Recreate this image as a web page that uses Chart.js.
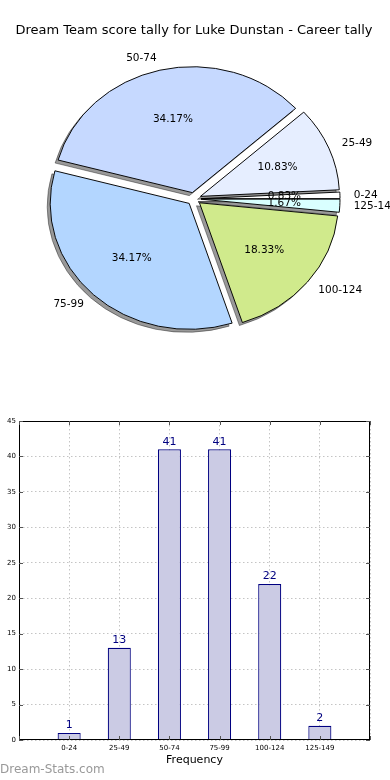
<!DOCTYPE html>
<html>
<head>
<meta charset="utf-8">
<title>Dream Team score tally</title>
<script src="https://cdn.jsdelivr.net/npm/chart.js@4.4.1/dist/chart.umd.min.js"></script>
<style>
  body { margin: 0; background: #fff; }
  #wrap { position: relative; width: 390px; height: 780px; overflow: hidden; }
  canvas { position: absolute; left: 0; }
  #pie { top: 0; }
  #bars { top: 400px; }
  #mark { position: absolute; left: 0; top: 762px; font: 12px "DejaVu Sans", sans-serif; color: #999; }
</style>
</head>
<body>
<div id="wrap">
  <canvas id="pie" width="390" height="400"></canvas>
  <canvas id="bars" width="390" height="380"></canvas>
  <div id="mark">Dream-Stats.com</div>
</div>
<script>
// data
const categories = ["0-24", "25-49", "50-74", "75-99", "100-124", "125-149"];
const counts = [1, 13, 41, 41, 22, 2];
const yTicks = [0, 5, 10, 15, 20, 25, 30, 35, 40, 45];
const pieColours = ["#ffffff", "#e6eeff", "#c6d9ff", "#b3d6ff", "#d0ea8c", "#d9ffff"];
const chartTitle = "Dream Team score tally for Luke Dunstan - Career tally";

const FONT = "DejaVu Sans";
const EXPLODE = 7;      // px each slice is pushed out
const SQUASH = 0.906;   // pie is a bit flatter than round
const SHADOW = "rgba(0,0,0,0.4)";

function pieSpace(ctx, cx, cy) {
  // flip so slices run anticlockwise, and squash a little
  ctx.translate(cx, cy);
  ctx.scale(1, -SQUASH);
  ctx.translate(-cx, -cy);
}

// pie: squash + flip, shadow pass, explode
const piePlugin = {
  id: "pieLook",
  beforeDatasetsDraw(chart) {
    const meta = chart.getDatasetMeta(0);
    const first = meta.data[0];
    const ctx = chart.ctx;
    meta.data.forEach(arc => {
      if (arc._exploded) return;
      const draw = arc.draw;
      arc.draw = function (c, area) {
        const mid = (this.startAngle + this.endAngle) / 2;
        c.save();
        c.translate(Math.cos(mid) * EXPLODE, Math.sin(mid) * EXPLODE);
        draw.call(this, c, area);
        c.restore();
      };
      arc._exploded = true;
    });

    // shadows first, down and to the left
    ctx.save();
    ctx.translate(-3, 3);
    pieSpace(ctx, first.x, first.y);
    meta.data.forEach(arc => {
      const o = arc.options;
      const bg = o.backgroundColor, bc = o.borderColor;
      o.backgroundColor = SHADOW;
      o.borderColor = SHADOW;
      arc.draw(ctx);
      o.backgroundColor = bg;
      o.borderColor = bc;
    });
    ctx.restore();

    ctx.save();
    pieSpace(ctx, first.x, first.y);
  },
  afterDatasetsDraw(chart) {
    const ctx = chart.ctx;
    ctx.restore();
    const meta = chart.getDatasetMeta(0);
    const total = counts.reduce((a, b) => a + b, 0);
    ctx.save();
    ctx.fillStyle = "#000";
    ctx.font = "10.5px '" + FONT + "'";
    ctx.textBaseline = "middle";
    meta.data.forEach((arc, i) => {
      const mid = (arc.startAngle + arc.endAngle) / 2;
      const r = arc.outerRadius;
      const at = d => ({
        x: arc.x + (EXPLODE + r * d) * Math.cos(mid),
        y: arc.y - SQUASH * (EXPLODE + r * d) * Math.sin(mid)
      });
      const p = at(0.6);
      ctx.textAlign = "center";
      ctx.fillText((counts[i] / total * 100).toFixed(2) + "%", p.x, p.y);
      const l = at(1.1);
      ctx.textAlign = l.x > arc.x ? "left" : "right";
      ctx.fillText(categories[i], l.x, l.y);
    });
    ctx.restore();
  }
};

new Chart(document.getElementById("pie"), {
  type: "pie",
  data: {
    labels: categories,
    datasets: [{
      data: counts,
      backgroundColor: pieColours,
      borderColor: "#000",
      borderWidth: 1,
      clip: false
    }]
  },
  options: {
    responsive: false,
    animation: false,
    events: [],
    rotation: 90,
    radius: 139,
    layout: { padding: { top: 0, left: 0, right: 2, bottom: 51 } },
    plugins: {
      legend: { display: false },
      tooltip: { enabled: false },
      title: {
        display: true,
        text: chartTitle,
        color: "#000",
        font: { family: FONT, size: 13, weight: "normal" },
        padding: { top: 23, bottom: 10 }
      }
    }
  },
  plugins: [piePlugin]
});

// bars: value labels, box frame with inward ticks
const barPlugin = {
  id: "barLook",
  afterDatasetsDraw(chart) {
    const ctx = chart.ctx;
    const meta = chart.getDatasetMeta(0);
    ctx.save();
    ctx.fillStyle = "#000080";
    ctx.font = "11px '" + FONT + "'";
    ctx.textAlign = "center";
    ctx.textBaseline = "bottom";
    meta.data.forEach((bar, i) => {
      const v = chart.data.datasets[0].data[i];
      if (v == null) return;
      ctx.fillText(v, bar.x, bar.y - 2);
    });
    ctx.restore();
  },
  afterDraw(chart) {
    const { ctx, chartArea: a, scales } = chart;
    ctx.save();
    ctx.strokeStyle = "#000";
    ctx.lineWidth = 1;
    ctx.strokeRect(a.left + 0.5, a.top + 0.5, a.right - a.left - 1, a.bottom - a.top - 1);
    ctx.strokeStyle = "#555";
    ctx.beginPath();
    scales.x.ticks.forEach((t, i) => {
      const x = Math.round(scales.x.getPixelForTick(i)) + 0.5;
      ctx.moveTo(x, a.top); ctx.lineTo(x, a.top + 4);
      ctx.moveTo(x, a.bottom); ctx.lineTo(x, a.bottom - 4);
    });
    scales.y.ticks.forEach((t, i) => {
      const y = Math.round(scales.y.getPixelForTick(i)) + 0.5;
      ctx.moveTo(a.left, y); ctx.lineTo(a.left + 4, y);
      ctx.moveTo(a.right, y); ctx.lineTo(a.right - 4, y);
    });
    ctx.stroke();
    ctx.restore();
  }
};

const paddedLabels = ["", ...categories, ""];
const paddedCounts = [null, ...counts, null];

new Chart(document.getElementById("bars"), {
  type: "bar",
  data: {
    labels: paddedLabels,
    datasets: [{
      data: paddedCounts,
      backgroundColor: "#cbcbe4",
      borderColor: "#000080",
      borderWidth: 1.2,
      barPercentage: 0.46,
      categoryPercentage: 1
    }]
  },
  options: {
    responsive: false,
    animation: false,
    events: [],
    layout: { padding: { top: 21, left: 0, right: 20, bottom: 0 } },
    plugins: { legend: { display: false }, tooltip: { enabled: false } },
    scales: {
      x: {
        z: 1,
        offset: false,
        afterFit: s => { s.height = 40; },
        grid: { offset: false, color: "#c4c4c4", drawTicks: false },
        border: { display: false, dash: [1.5, 2.5] },
        ticks: { color: "#000", font: { family: FONT, size: 7 }, padding: 4, maxRotation: 0, autoSkip: false },
        title: {
          display: true,
          text: "Frequency",
          color: "#000",
          font: { family: FONT, size: 11 },
          padding: { top: 0, bottom: 13 }
        }
      },
      y: {
        z: 1,
        min: yTicks[0],
        max: yTicks[yTicks.length - 1],
        afterFit: s => { s.width = 19; },
        afterBuildTicks: s => { s.ticks = yTicks.map(v => ({ value: v })); },
        grid: { color: "#c4c4c4", drawTicks: false },
        border: { display: false, dash: [1.5, 2.5] },
        ticks: { color: "#000", font: { family: FONT, size: 7 }, padding: 3 }
      }
    }
  },
  plugins: [barPlugin]
});
</script>
</body>
</html>
